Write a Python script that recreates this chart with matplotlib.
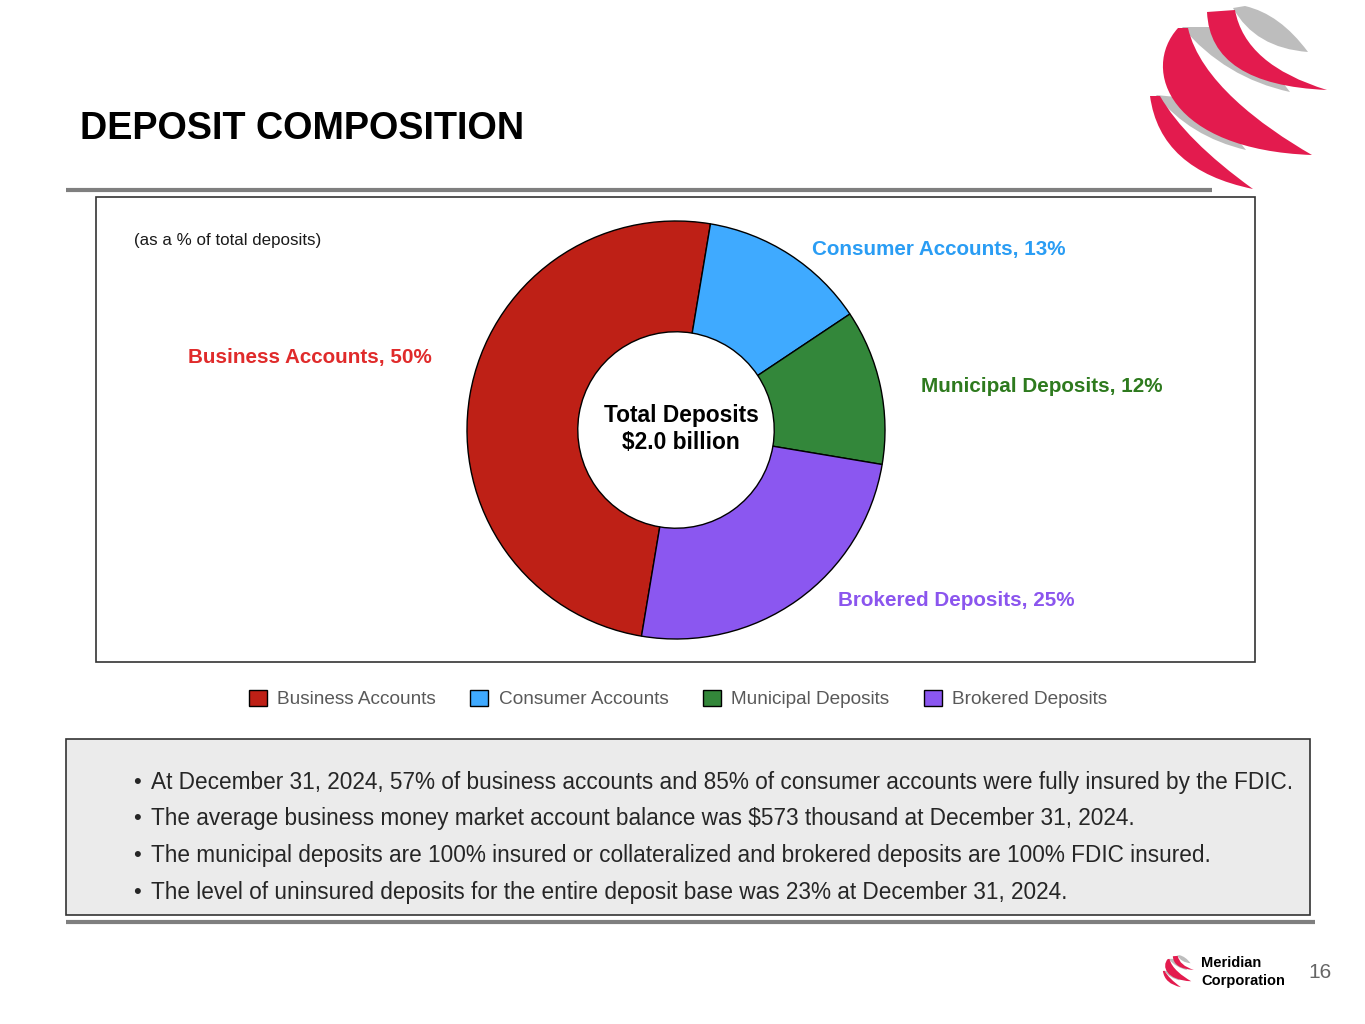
import matplotlib
matplotlib.use('Agg')
import matplotlib.pyplot as plt
from matplotlib.patches import Rectangle, PathPatch
from matplotlib.path import Path

plt.rcParams['font.family'] = ['Liberation Sans', 'DejaVu Sans']

# data
categories = ['Business Accounts', 'Consumer Accounts', 'Municipal Deposits', 'Brokered Deposits']
shares = [50, 13, 12, 25]
colors = ['#BE2016', '#3FAAFF', '#33873A', '#8B57F0']
label_colors = ['#E02B2B', '#2A9DF4', '#2E7A1E', '#8B55EE']
label_pos = [(432, 357, 'right'), (812, 250, 'left'), (921, 387, 'left'), (838, 601, 'left')]
bullets = [
    'At December 31, 2024, 57% of business accounts and 85% of consumer accounts were fully insured by the FDIC.',
    'The average business money market account balance was $573 thousand at December 31, 2024.',
    'The municipal deposits are 100% insured or collateralized and brokered deposits are 100% FDIC insured.',
    'The level of uninsured deposits for the entire deposit base was 23% at December 31, 2024.',
]

W, H = 1365, 1024
fig = plt.figure(figsize=(W / 100, H / 100), dpi=100)
bg = fig.add_axes([0, 0, 1, 1], zorder=0)
bg.set_xlim(0, W)
bg.set_ylim(H, 0)
bg.axis('off')


def swoosh(ax, pts, color, dx=0, dy=0, s=1.0, x0=1145, y0=5):
    # pts: list of (code, (x, y)) in big-logo pixel coords
    verts = []
    codes = []
    for c, (x, y) in pts:
        verts.append((dx + (x - x0) * s, dy + (y - y0) * s))
        codes.append(c)
    verts.append(verts[0])
    codes.append(Path.CLOSEPOLY)
    ax.add_patch(PathPatch(Path(verts, codes), fc=color, ec='none', zorder=3))


M, C3, C4, L = Path.MOVETO, Path.CURVE3, Path.CURVE4, Path.LINETO
grays = [
    [(M, (1233, 8)), (L, (1245, 6)), (C3, (1280, 14)), (C3, (1308, 52)), (C3, (1255, 48)), (C3, (1233, 8))],
    [(M, (1182, 27)), (L, (1212, 27)), (C3, (1255, 45)), (C3, (1290, 92)), (C3, (1225, 78)), (C3, (1182, 27))],
    [(M, (1156, 95)), (L, (1176, 97)), (C3, (1212, 106)), (C3, (1246, 150)), (C3, (1190, 137)), (C3, (1156, 95))],
]
reds = [
    [(M, (1207, 12)), (C3, (1210, 85)), (C3, (1327, 90)), (C3, (1245, 65)), (C3, (1235, 10))],
    [(M, (1178, 28)), (C4, (1140, 70)), (C4, (1170, 150)), (C4, (1312, 155)),
     (C4, (1260, 125)), (C4, (1200, 80)), (C4, (1188, 28))],
    [(M, (1150, 96)), (C3, (1160, 170)), (C3, (1253, 189)), (C3, (1185, 140)), (C3, (1160, 96))],
]
for s, dx, dy in [(1.0, 1145, 5), (0.175, 1162, 955)]:
    for g in grays:
        swoosh(bg, g, '#BDBDBD', dx, dy, s)
    for r in reds:
        swoosh(bg, r, '#E31B4E', dx, dy, s)

# title and rules
bg.text(80, 129, 'DEPOSIT COMPOSITION', fontsize=27.2, fontweight='bold', ha='left', va='center', color='black')
bg.plot([66, 1212], [190, 190], color='#7F7F7F', lw=3, solid_capstyle='butt')
bg.plot([66, 1315], [922, 922], color='#7F7F7F', lw=3, solid_capstyle='butt')

# chart frame
bg.add_patch(Rectangle((96, 197), 1159, 465, fc='white', ec='#333333', lw=1.2, zorder=1))
bg.text(134, 241, '(as a % of total deposits)', fontsize=12.2, ha='left', va='center', color='#1a1a1a', zorder=2)

for cat, val, col, (x, y, ha) in zip(categories, shares, label_colors, label_pos):
    bg.text(x, y, f'{cat}, {val}%', fontsize=14.9, fontweight='bold', color=col, ha=ha, va='center', zorder=2)

# donut
cx, cy, r = 676, 430, 209
pie_ax = fig.add_axes([(cx - r) / W, (H - cy - r) / H, 2 * r / W, 2 * r / H], zorder=1)
pie_ax.patch.set_alpha(0)
wedges, _ = pie_ax.pie(shares, colors=colors, startangle=260.5, counterclock=False,
                       wedgeprops=dict(width=0.53, edgecolor='black', linewidth=1.0))
pie_ax.set_xlim(-1.0, 1.0)
pie_ax.set_ylim(-1.0, 1.0)
pie_ax.text(0.025, 0.07, 'Total Deposits', fontsize=16.4, fontweight='bold', ha='center', va='center')
pie_ax.text(0.025, -0.06, '$2.0 billion', fontsize=16.4, fontweight='bold', ha='center', va='center')

# legend
fig.legend(wedges, categories, loc='center', bbox_to_anchor=(678 / W, 1 - 699 / H), ncol=4,
           frameon=False, fontsize=13.7, handlelength=0.95, handleheight=0.95, handletextpad=0.55,
           columnspacing=1.8, labelcolor='#595959')

# notes box
bg.add_patch(Rectangle((66, 739), 1244, 176, fc='#EBEBEB', ec='#333333', lw=1.2, zorder=1))
for i, line in enumerate(bullets):
    y = 782 + i * 36.7
    bg.text(133, y, '•', fontsize=16, ha='left', va='center', color='#262626', zorder=2)
    bg.text(151, y, line, fontsize=16.28, ha='left', va='center', color='#262626', zorder=2)

# footer
bg.text(1201, 963, 'Meridian', fontsize=10.5, fontweight='bold', ha='left', va='center')
bg.text(1201, 981, 'Corporation', fontsize=10.5, fontweight='bold', ha='left', va='center')
bg.text(1320, 972, '16', fontsize=15, ha='center', va='center', color='#666666')

fig.savefig('out.png', dpi=100)
